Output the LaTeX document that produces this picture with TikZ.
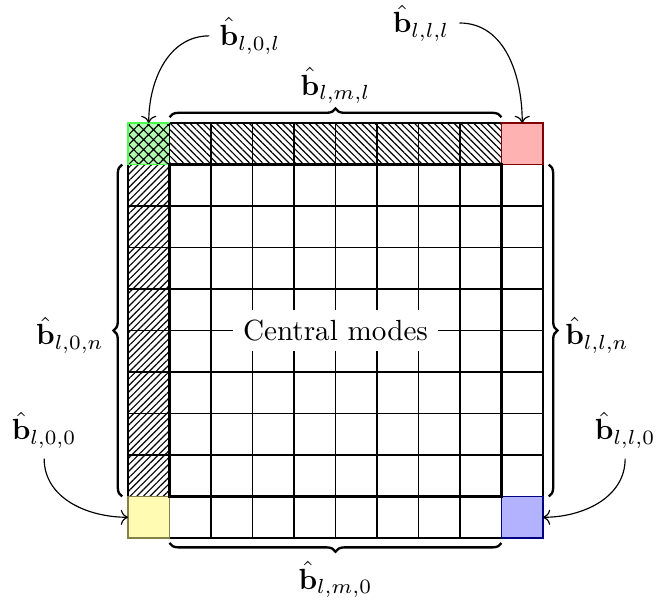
\documentclass[tikz,border=0pt]{standalone}
\usetikzlibrary{patterns,patterns.meta,decorations.pathreplacing,arrows.meta}
\begin{document}
\begin{tikzpicture}[x=0.5cm,y=0.5cm,
  gridline/.style={line width=0.4pt},
  hatchne/.style={pattern={Lines[angle=45,distance=1.6pt,line width=0.4pt]}},
  hatchnw/.style={pattern={Lines[angle=-45,distance=1.6pt,line width=0.4pt]}},
  hatchx/.style={pattern={Hatch[angle=45,distance=2.4pt,line width=0.4pt]}},
  bracestyle/.style={decorate,decoration={brace,amplitude=3pt},thick},
  pointer/.style={->,thin}]
\useasboundingbox (-3.084,-1.494) rectangle (12.747,12.964);
% hatched border cells
\fill[hatchne] (0,1) rectangle (1,9);
\fill[hatchnw] (1,9) rectangle (9,10);
% grid
\draw[gridline,step=0.5cm] (0,0) grid (10,10);
% corner cells
\fill[green!30] (0,9) rectangle (1,10);
\fill[hatchx] (0,9) rectangle (1,10);
\draw[green!70] (0,9) rectangle (1,10);
\draw[gridline] (1,9) -- (1,10);
\filldraw[fill=red!30,draw=red!50!black] (9,9) rectangle (10,10);
\filldraw[fill=yellow!30,draw=yellow!45!black] (0,0) rectangle (1,1);
\filldraw[fill=blue!30,draw=blue!50!black] (9,0) rectangle (10,1);
% central block
\draw[line width=1.2pt] (1,1) rectangle (9,9);
\node[fill=white] (central) at (5,5) {Central modes};
% braces
\draw[bracestyle] (1,10.14) -- (9,10.14);
\draw[bracestyle] (9,-0.12) -- (1,-0.12);
\draw[bracestyle] (-0.14,1) -- (-0.14,9);
\draw[bracestyle] (10.14,9) -- (10.14,1);
% labels
\node (top) at (5,10.9) {$\hat{\mathbf{b}}_{l,m,l}$};
\node (bot) at (5,-1.0) {$\hat{\mathbf{b}}_{l,m,0}$};
\node (lft) at (-1.40,4.89) {$\hat{\mathbf{b}}_{l,0,n}$};
\node (rgt) at (11.30,4.89) {$\hat{\mathbf{b}}_{l,l,n}$};
\node (tl) at (2.94,12.1) {$\hat{\mathbf{b}}_{l,0,l}$};
\node (tr) at (7.06,12.41) {$\hat{\mathbf{b}}_{l,l,l}$};
\node (bl) at (-2.02,2.6) {$\hat{\mathbf{b}}_{l,0,0}$};
\node (br) at (11.98,2.6) {$\hat{\mathbf{b}}_{l,l,0}$};
% targets
\coordinate (gtop) at (0.5,10);
\coordinate (rtop) at (9.5,10);
\coordinate (yleft) at (0,0.5);
\coordinate (bright) at (10,0.5);
% pointers
\draw[pointer] (tl.west) to[out=180,in=90] (gtop);
\draw[pointer] (tr.east) to[out=0,in=90] (rtop);
\draw[pointer] (bl.south) to[out=-90,in=180] (yleft);
\draw[pointer] (br.south) to[out=-90,in=0] (bright);
\end{tikzpicture}
\end{document}
